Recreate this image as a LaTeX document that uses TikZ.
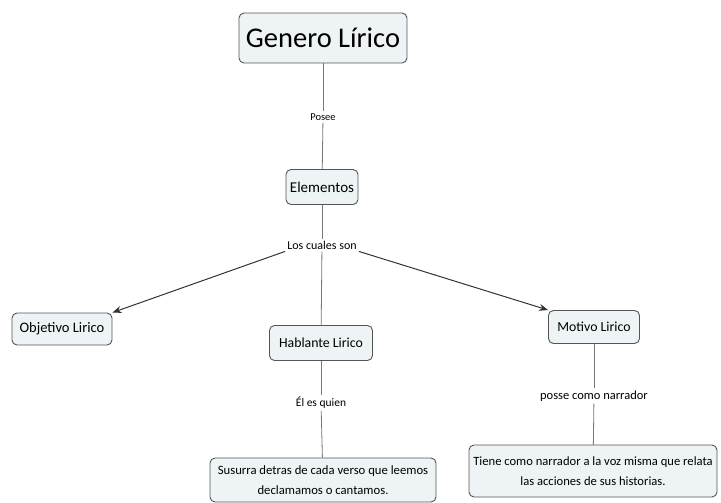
\documentclass[tikz,border=0pt]{standalone}
\usepackage{fontspec}
\setmainfont{Carlito}
\usetikzlibrary{arrows.meta}
\definecolor{boxfill}{HTML}{EEF3F6}
\definecolor{boxline}{HTML}{555555}
\definecolor{conn}{HTML}{777777}
\begin{document}
\begin{tikzpicture}[x=1pt,y=-1pt,
  concept/.style={draw=boxline,fill=boxfill,rounded corners=5pt,line width=0.9pt,inner sep=0pt,align=center},
  lbl/.style={font=\fontsize{12}{14}\selectfont,inner sep=2pt,fill=white},
  conn/.style={draw=conn,line width=0.8pt},
  arr/.style={draw=black!80,line width=1pt,-{Stealth[length=9pt,width=7pt]}}]
\useasboundingbox (0,0) rectangle (721,503);
\node[concept,minimum width=168pt,minimum height=50pt,font=\fontsize{28.5}{32}\selectfont] (gl) at (323,38) {Genero Lírico};
\node[lbl,font=\fontsize{10.5}{12}\selectfont] (posee) at (323,117) {Posee};
\node[concept,minimum width=72pt,minimum height=35pt,font=\fontsize{15}{17}\selectfont] (el) at (322,187) {Elementos};
\node[lbl] (cuales) at (322,245) {Los cuales son};
\node[concept,minimum width=100pt,minimum height=32pt,font=\fontsize{14.5}{16}\selectfont] (obj) at (62,329) {Objetivo Lirico};
\node[concept,minimum width=103pt,minimum height=35pt,font=\fontsize{13.8}{16}\selectfont] (hab) at (321,343) {Hablante Lirico};
\node[lbl,font=\fontsize{11.5}{13}\selectfont] (es) at (321,403) {Él es quien};
\node[concept,minimum width=226pt,minimum height=44pt,font=\fontsize{12.7}{20}\selectfont] (sus) at (323,480) {Susurra detras de cada verso que leemos\\declamamos o cantamos.};
\node[concept,minimum width=91pt,minimum height=33pt,font=\fontsize{13.8}{16}\selectfont] (mot) at (594,327) {Motivo Lirico};
\node[lbl,font=\fontsize{12.5}{14}\selectfont] (posse) at (594,396) {posse como narrador};
\node[concept,minimum width=248pt,minimum height=52pt,font=\fontsize{12.6}{20}\selectfont] (tie) at (593,471) {Tiene como narrador a la voz misma que relata\\las acciones de sus historias.};
\draw[conn] (gl) -- (posee);
\draw[conn] (posee) -- (el);
\draw[conn] (el) -- (cuales);
\draw[conn] (cuales) -- (hab);
\draw[conn] (hab) -- (es);
\draw[conn] (es) -- (sus);
\draw[conn] (mot) -- (posse);
\draw[conn] (posse) -- (tie);
\draw[arr] (cuales.south west) -- (obj.north east);
\draw[arr] (cuales.south east) -- (mot.north west);
\end{tikzpicture}
\end{document}
